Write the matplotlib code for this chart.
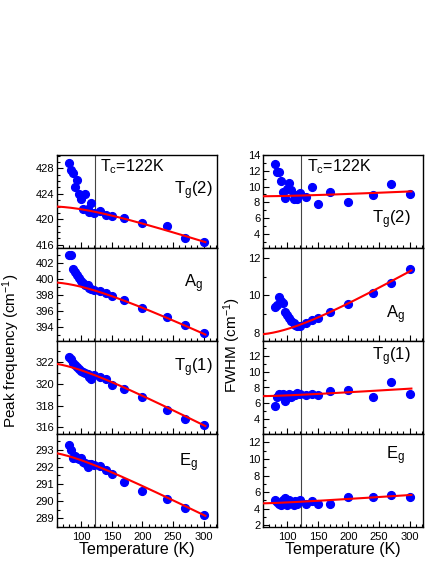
import numpy as np
import matplotlib
matplotlib.use("Agg")
import matplotlib.pyplot as plt
from matplotlib.ticker import MultipleLocator

plt.rcParams['font.family'] = ['Liberation Sans', 'DejaVu Sans']
plt.rcParams['mathtext.default'] = 'regular'

# temperatures (K)
T = [80, 83, 86, 90, 93, 96, 100, 103, 106, 110, 113, 116, 120,
     130, 140, 150, 170, 200, 240, 270, 300]

# peak frequencies (cm-1)
freq_Tg2 = [428.9, 427.8, 427.3, 425.0, 426.2, 424.0, 423.2, 421.7, 424.0, 421.7, 421.2,
            422.5, 421.0, 421.3, 420.7, 420.5, 420.2, 419.5, 418.9, 417.1, 416.5]
freq_Ag = [403.0, 403.0, 401.3, 400.9, 400.5, 400.1, 399.8, 399.5, 399.3, 399.2, 398.9,
           398.7, 398.6, 398.5, 398.2, 397.9, 397.4, 396.4, 395.2, 394.2, 393.2]
freq_Tg1 = [322.4, 322.3, 321.9, 321.7, 321.5, 321.3, 321.2, 321.1, 321.0, 320.9, 320.6,
            320.4, 320.8, 320.6, 320.4, 319.9, 319.5, 318.75, 317.6, 316.8, 316.25]
freq_Eg = [293.25, 293.0, 292.5, 292.6, 292.5, 292.45, 292.5, 292.3, 292.2, 292.0, 292.15,
           292.15, 292.1, 292.05, 291.8, 291.6, 291.1, 290.6, 290.15, 289.6, 289.2]

# FWHM (cm-1)
fwhm_Tg2 = [12.8, 11.9, 11.8, 10.7, 9.3, 8.5, 9.7, 10.4, 9.6, 8.4, 8.9, 8.4, 9.2,
            8.65, 10.0, 7.8, 9.3, 8.0, 8.9, 10.3, 9.0]
fwhm_Ag = [9.4, 9.5, 9.9, 9.7, 9.6, 9.1, 8.95, 8.8, 8.65, 8.5, 8.4, 8.35, 8.35,
           8.5, 8.7, 8.8, 9.1, 9.55, 10.15, 10.65, 11.4]
fwhm_Tg1 = [5.65, 6.85, 7.15, 7.1, 7.15, 6.3, 6.75, 7.15, 6.75, 7.1, 7.1, 7.3, 7.2,
            7.0, 7.15, 7.0, 7.5, 7.7, 6.8, 8.7, 7.2]
fwhm_Eg = [5.05, 4.85, 4.6, 4.45, 5.1, 5.25, 4.45, 5.0, 4.8, 4.45, 4.95, 4.6, 5.0,
           4.55, 4.9, 4.55, 4.6, 5.4, 5.4, 5.65, 5.45]

# anharmonic fit parameters: value = a + b*(1 + 2/(exp(theta/T)-1))
theta = [302, 288, 231, 210]
freq_a = [426.9, 404.9, 325.28, 294.77]
freq_b = [-4.83, -5.26, -3.33, -1.874]
fwhm_a = [8.22, 5.11, 6.31, 4.09]
fwhm_b = [0.536, 2.758, 0.565, 0.524]

modes = ['T$_g$(2)', 'A$_g$', 'T$_g$(1)', 'E$_g$']
freq_data = [freq_Tg2, freq_Ag, freq_Tg1, freq_Eg]
fwhm_data = [fwhm_Tg2, fwhm_Ag, fwhm_Tg1, fwhm_Eg]
Tc = 122

freq_ylim = [(415.5, 430.1), (392.2, 403.9), (315.4, 323.9), (288.5, 293.9)]
freq_major = [4, 2, 2, 1]
freq_minor = [1, 1, 1, 0.5]
fwhm_ylim = [(2.2, 14), (7.55, 12.55), (2.1, 13.9), (1.8, 13)]
fwhm_ticks = [[4, 6, 8, 10, 12, 14], [8, 10, 12], [4, 6, 8, 10, 12], [2, 4, 6, 8, 10, 12]]

# label positions (axes fraction)
freq_lab = [(0.97, 0.62), (0.91, 0.62), (0.975, 0.71), (0.88, 0.69)]
fwhm_lab = [(0.92, 0.30), (0.89, 0.28), (0.92, 0.83), (0.89, 0.77)]

W, H = 436, 564
fig = plt.figure(figsize=(W / 100, H / 100), dpi=100)

Tfit = np.linspace(60, 303, 300)


def model(a, b, th):
    return a + b * (1 + 2 / (np.exp(th / Tfit) - 1))


def style(ax, ylim, last):
    ax.set_xlim(60, 322)
    ax.set_ylim(*ylim)
    ax.xaxis.set_major_locator(MultipleLocator(50))
    ax.xaxis.set_minor_locator(MultipleLocator(10))
    ax.tick_params(which='both', direction='in', labelsize=8, width=0.8)
    ax.tick_params(which='major', length=4)
    ax.tick_params(which='minor', length=2.5)
    ax.tick_params(axis='y', pad=2)
    for s in ax.spines.values():
        s.set_linewidth(1.0)
    if not last:
        ax.tick_params(axis='x', labelbottom=False)
    else:
        ax.set_xticks([100, 150, 200, 250, 300])
        ax.set_xlabel('Temperature (K)', fontsize=11.5, labelpad=0)


ph = 93
columns = [(57, freq_data, freq_ylim, freq_a, freq_b, freq_lab),
           (263, fwhm_data, fwhm_ylim, fwhm_a, fwhm_b, fwhm_lab)]
for col, (x0, data, ylims, aa, bb, labs) in enumerate(columns):
    for i in range(4):
        top = 155 + ph * i
        ax = fig.add_axes([x0 / W, 1 - (top + ph) / H, 160 / W, ph / H])
        ax.plot(T, data[i], 'o', color='#0000ff', markersize=5.6, zorder=3)
        ax.plot(Tfit, model(aa[i], bb[i], theta[i]), color='#ff0000', lw=1.5, zorder=4)
        ax.axvline(Tc, color='#444444', lw=0.8, zorder=2)
        style(ax, ylims[i], i == 3)
        if col == 0:
            ax.yaxis.set_major_locator(MultipleLocator(freq_major[i]))
            ax.yaxis.set_minor_locator(MultipleLocator(freq_minor[i]))
        else:
            ax.set_yticks(fwhm_ticks[i])
            ax.yaxis.set_minor_locator(MultipleLocator(1))
        lx, ly = labs[i]
        ax.text(lx, ly, modes[i], transform=ax.transAxes, ha='right', va='center',
                fontsize=12)
        if i == 0:
            ax.text(0.27 if col == 0 else 0.275, 0.87, 'T$_c$=122K', transform=ax.transAxes,
                    ha='left', va='center', fontsize=11.5)

fig.text(11 / W, 1 - 351 / H, 'Peak frequency (cm$^{-1}$)', rotation=90,
         ha='center', va='center', fontsize=11)
fig.text(232 / W, 1 - 345 / H, 'FWHM (cm$^{-1}$)', rotation=90,
         ha='center', va='center', fontsize=11)

fig.savefig('out.png', dpi=100)
